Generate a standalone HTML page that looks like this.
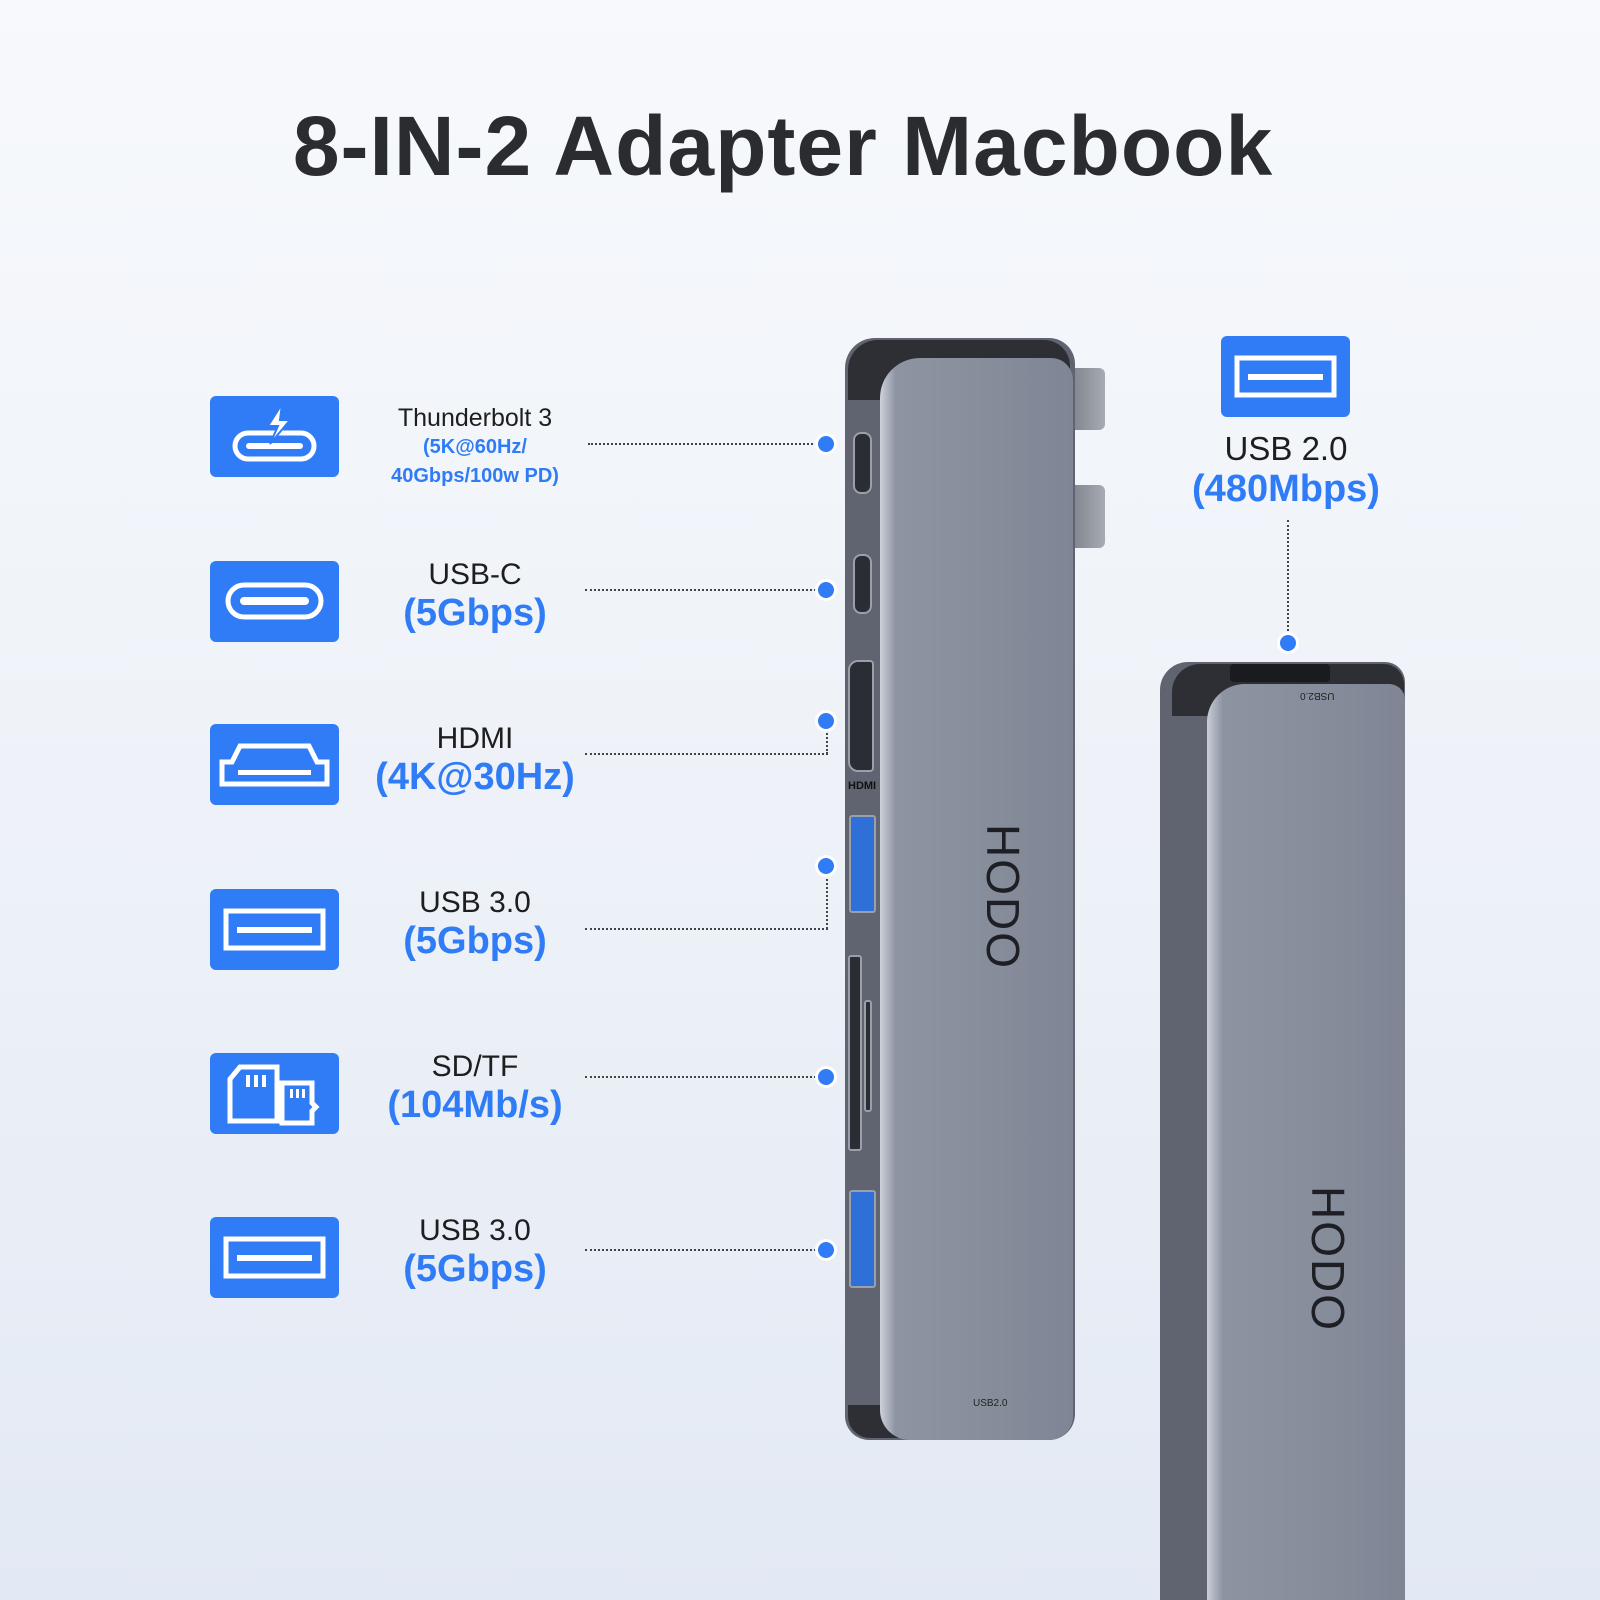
<!DOCTYPE html>
<html style="background:#e3e9f4"><head><meta charset="utf-8"><style>
*{margin:0;padding:0;box-sizing:border-box}
html,body{width:1600px;height:1600px;overflow:hidden}
body{position:relative;font-family:"Liberation Sans","DejaVu Sans",sans-serif;background:linear-gradient(180deg,#f7f9fc 0%,#eef2f8 50%,#e3e9f4 100%)}
.a{position:absolute}
.title{left:0;width:1566px;top:98px;text-align:center;font-size:84px;font-weight:bold;color:#2a2c30;letter-spacing:1px}
.ib{position:absolute;left:210px;width:129px;height:81px;background:#2f7cf6;border-radius:6px}
.lb{position:absolute;left:340px;width:270px;text-align:center}
.l1{font-size:30px;color:#1e1e1e}
.l2{font-size:38px;font-weight:bold;color:#2f7cf6}
.dl{position:absolute;border-top:2px dotted #444;height:0}
.dv{position:absolute;border-left:2px dotted #444;width:0}
.dot{position:absolute;width:16px;height:16px;border-radius:50%;background:#2f7cf6;box-shadow:0 0 0 3px #fff}
.port{position:absolute;background:#2a2d33;border:2px solid #9aa0aa;border-radius:8px}
.hodo{position:absolute;font-size:46px;color:#1d1f24;transform:rotate(90deg);letter-spacing:2px}
</style></head><body>
<div class="a title">8-IN-2 Adapter Macbook</div>

<div class="ib" style="top:396px"><svg width="129" height="81"><rect x="25" y="37" width="79" height="26" rx="13" fill="none" stroke="#fff" stroke-width="5"/><rect x="36" y="47" width="57" height="6" rx="3" fill="#fff"/><path d="M72 8 L58 30 L68 30 L60 48 L80 24 L70 24 Z" fill="#fff" stroke="#2f7cf6" stroke-width="2"/></svg></div>
<div class="ib" style="top:561px"><svg width="129" height="81"><rect x="18" y="24" width="93" height="32" rx="16" fill="none" stroke="#fff" stroke-width="5"/><rect x="30" y="36" width="69" height="8" rx="4" fill="#fff"/></svg></div>
<div class="ib" style="top:724px"><svg width="129" height="81"><path d="M12 60 L12 38 L22 38 L30 22 L99 22 L107 38 L117 38 L117 60 Z" fill="none" stroke="#fff" stroke-width="5"/><rect x="28" y="46" width="73" height="5" fill="#fff"/></svg></div>
<div class="ib" style="top:889px"><svg width="129" height="81"><rect x="16" y="22" width="97" height="37" fill="none" stroke="#fff" stroke-width="5"/><rect x="27" y="38" width="75" height="6" fill="#fff"/></svg></div>
<div class="ib" style="top:1053px"><svg width="129" height="81"><path d="M20 68 L20 26 L30 14 L67 14 L67 68 Z" fill="none" stroke="#fff" stroke-width="5"/><rect x="36" y="22" width="4" height="12" fill="#fff"/><rect x="44" y="22" width="4" height="12" fill="#fff"/><rect x="52" y="22" width="4" height="12" fill="#fff"/><path d="M72 70 L72 30 L102 30 L102 50 L106 54 L102 58 L102 70 Z" fill="none" stroke="#fff" stroke-width="5"/><rect x="80" y="36" width="3" height="9" fill="#fff"/><rect x="86" y="36" width="3" height="9" fill="#fff"/><rect x="92" y="36" width="3" height="9" fill="#fff"/></svg></div>
<div class="ib" style="top:1217px"><svg width="129" height="81"><rect x="16" y="22" width="97" height="37" fill="none" stroke="#fff" stroke-width="5"/><rect x="27" y="38" width="75" height="6" fill="#fff"/></svg></div>
<div class="ib" style="top:336px;left:1221px"><svg width="129" height="81"><rect x="16" y="22" width="97" height="37" fill="none" stroke="#fff" stroke-width="5"/><rect x="27" y="38" width="75" height="6" fill="#fff"/></svg></div>

<div class="lb" style="top:404px"><div class="l1" style="font-size:25px">Thunderbolt 3</div><div style="font-size:20px;font-weight:bold;color:#2f7cf6;line-height:29px">(5K@60Hz/<br>40Gbps/100w PD)</div></div>
<div class="lb" style="top:558px"><div class="l1">USB-C</div><div class="l2">(5Gbps)</div></div>
<div class="lb" style="top:722px"><div class="l1">HDMI</div><div class="l2">(4K@30Hz)</div></div>
<div class="lb" style="top:886px"><div class="l1">USB 3.0</div><div class="l2">(5Gbps)</div></div>
<div class="lb" style="top:1050px"><div class="l1">SD/TF</div><div class="l2">(104Mb/s)</div></div>
<div class="lb" style="top:1214px"><div class="l1">USB 3.0</div><div class="l2">(5Gbps)</div></div>
<div class="a" style="left:1150px;width:272px;top:430px;text-align:center"><div class="l1" style="font-size:33px">USB 2.0</div><div class="l2" style="font-size:38px">(480Mbps)</div></div>

<div class="dl" style="left:588px;width:232px;top:443px"></div><div class="dot" style="left:818px;top:436px"></div>
<div class="dl" style="left:585px;width:235px;top:589px"></div><div class="dot" style="left:818px;top:582px"></div>
<div class="dl" style="left:585px;width:243px;top:753px"></div><div class="dv" style="left:826px;top:730px;height:24px"></div><div class="dot" style="left:818px;top:713px"></div>
<div class="dl" style="left:585px;width:243px;top:928px"></div><div class="dv" style="left:826px;top:874px;height:55px"></div><div class="dot" style="left:818px;top:858px"></div>
<div class="dl" style="left:585px;width:235px;top:1076px"></div><div class="dot" style="left:818px;top:1069px"></div>
<div class="dl" style="left:585px;width:235px;top:1249px"></div><div class="dot" style="left:818px;top:1242px"></div>
<div class="dv" style="left:1287px;top:520px;height:115px"></div><div class="dot" style="left:1280px;top:635px"></div>

<div class="a" style="left:1070px;top:368px;width:35px;height:62px;background:linear-gradient(90deg,#7d828c,#a7abb3);border-radius:0 6px 6px 0"></div>
<div class="a" style="left:1070px;top:485px;width:35px;height:63px;background:linear-gradient(90deg,#7d828c,#a7abb3);border-radius:0 6px 6px 0"></div>
<div class="a" style="left:845px;top:338px;width:230px;height:1102px;background:#5f6470;border-radius:30px 26px 26px 24px"></div>
<div class="a" style="left:848px;top:340px;width:222px;height:60px;background:#2d2f34;border-radius:30px 26px 0 0"></div>
<div class="a" style="left:848px;top:1405px;width:70px;height:33px;background:#2d2f34;border-radius:0 0 0 22px"></div>
<div class="a" style="left:880px;top:358px;width:193px;height:1082px;background:linear-gradient(90deg,#cdd2da 0%,#8e94a2 8%,#878e9c 50%,#7f8594 100%);border-radius:40px 22px 24px 30px"></div>
<div class="port" style="left:853px;top:432px;width:19px;height:62px"></div>
<div class="port" style="left:853px;top:554px;width:19px;height:60px"></div>
<div class="port" style="left:848px;top:660px;width:26px;height:112px;border-radius:10px 4px 4px 10px"></div>
<div class="a" style="left:848px;top:780px;font-size:11px;font-weight:bold;color:#111">HDMI</div>
<div class="port" style="left:849px;top:815px;width:27px;height:98px;border-radius:3px;background:#2f6fd8"></div>
<div class="port" style="left:848px;top:955px;width:14px;height:196px;border-radius:3px"></div>
<div class="port" style="left:864px;top:1000px;width:8px;height:112px;border-radius:3px"></div>
<div class="port" style="left:849px;top:1190px;width:27px;height:98px;border-radius:3px;background:#2f6fd8"></div>
<div class="a" style="left:973px;top:1398px;font-size:10px;color:#222">USB2.0</div>
<div class="hodo" style="left:930px;top:870px">HODO</div>

<div class="a" style="left:1160px;top:662px;width:245px;height:960px;background:#5f6470;border-radius:28px 20px 0 0"></div>
<div class="a" style="left:1172px;top:664px;width:232px;height:52px;background:#2d2f34;border-radius:28px 20px 0 0"></div>
<div class="a" style="left:1230px;top:664px;width:100px;height:18px;background:#1a1b1e;border-radius:4px"></div>
<div class="a" style="left:1207px;top:684px;width:198px;height:930px;background:linear-gradient(90deg,#c9ced7 0%,#8d93a1 8%,#878e9c 50%,#7f8594 100%);border-radius:38px 16px 0 0"></div>
<div class="a" style="left:1300px;top:690px;font-size:10px;color:#222;transform:rotate(180deg)">USB2.0</div>
<div class="hodo" style="left:1255px;top:1232px">HODO</div>
</body></html>
